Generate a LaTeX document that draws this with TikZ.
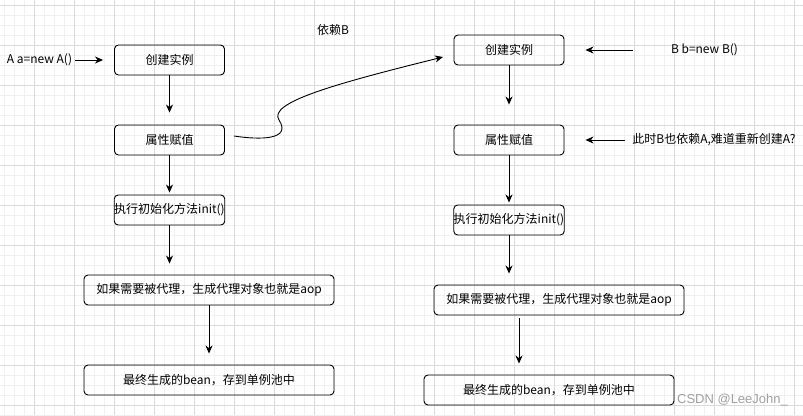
\documentclass[tikz,border=0pt]{standalone}
\usepackage{fontspec}
\setmainfont{Noto Sans CJK SC}
\newfontfamily\markfont{Liberation Sans}
\usepackage{tikz}
\usetikzlibrary{arrows.meta,calc}
\usepackage{xcolor}
\definecolor{gridminor}{RGB}{240,240,240}
\definecolor{gridmajor}{RGB}{218,218,218}
\definecolor{markgray}{RGB}{160,160,160}

\tikzset{
  procbox/.style={draw, line width=0.9pt, rounded corners=4pt, minimum width=110pt,
    minimum height=30pt, inner sep=0pt, font=\fontsize{12}{14}\selectfont},
  widebox/.style={procbox, minimum width=250pt},
  note/.style={inner sep=0pt, font=\fontsize{12}{14}\selectfont},
  flow/.style={-{Stealth[length=8pt,width=7pt,inset=2.5pt]}, line width=0.9pt},
}

\begin{document}
\begin{tikzpicture}[x=1pt, y=-1pt]

% === background grid ===
\fill[white] (0,0) rectangle (803,415);
\useasboundingbox (0,0) rectangle (803,415);
\foreach \gx in {4,14,...,803} \draw[gridminor, line width=1pt] (\gx,0) -- (\gx,415);
\foreach \gy in {5,15,...,415} \draw[gridminor, line width=1pt] (0,\gy) -- (803,\gy);
\foreach \gx in {34,74,...,803} \draw[gridmajor, line width=1pt] (\gx,0) -- (\gx,415);
\foreach \gy in {5,45,...,415} \draw[gridmajor, line width=1pt] (0,\gy) -- (803,\gy);

% === LEFT: bean A ===
\node[note] (aText) at (39.5,60) {A a=new A()};
\node[procbox] (a1) at (169.5,60) {创建实例};
\node[procbox] (a2) at (169.5,140) {属性赋值};
\node[procbox] (a3) at (169.5,210) {执行初始化方法init()};
\node[widebox] (a4) at (209,290) {如果需要被代理，生成代理对象也就是aop};
\node[widebox] (a5) at (209,380) {最终生成的bean，存到单例池中};

\draw[flow, shorten <=3pt, shorten >=11pt] (aText.east) -- (a1.west);
\draw[flow, shorten >=12pt] (a1) -- (a2);
\draw[flow, shorten >=2pt] (a2) -- (a3);
\draw[flow, shorten >=11pt] (a3.south) -- (a3.south |- a4.north);
\draw[flow, shorten >=11pt] (a4) -- (a5);

% === MIDDLE: dependency on B ===
\node[note] (depB) at (333,30) {依赖B};
\coordinate (curveStart) at (234,136);
\coordinate (curveEnd) at (443,57);
\draw[flow] (curveStart) .. controls (260,140) and (292,140) .. (279,120)
  .. controls (268,103) and (330,85) .. (curveEnd);

% === RIGHT: bean B ===
\node[procbox] (b1) at (509,50) {创建实例};
\node[procbox] (b2) at (509,140) {属性赋值};
\node[procbox] (b3) at (509,220) {执行初始化方法init()};
\node[widebox] (b4) at (559,300) {如果需要被代理，生成代理对象也就是aop};
\node[widebox] (b5) at (549,390) {最终生成的bean，存到单例池中};

\node[note] (bText) at (704.5,50) {B b=new B()};
\node[note] (askText) at (714,140) {此时B也依赖A,难道重新创建A?};

\draw[flow, shorten <=38pt, shorten >=21pt] (bText.west) -- (b1.east);
\draw[flow, shorten <=7pt, shorten >=21pt] (askText.west) -- (b2.east);
\draw[flow, shorten >=20pt] (b1) -- (b2);
\draw[flow, shorten >=2pt] (b2) -- (b3);
\draw[flow, shorten >=11pt] (b3.south) -- (b3.south |- b4.north);
\draw[flow, shorten <=3pt, shorten >=11pt] ([xshift=-40pt]b4.south) -- ([xshift=-40pt]b4.south |- b5.north);

% watermark
\node[inner sep=0pt, text=markgray, font=\markfont\fontsize{13}{15}\selectfont] (mark) at (732.5,400) {CSDN @LeeJohn\_};

\end{tikzpicture}
\end{document}
